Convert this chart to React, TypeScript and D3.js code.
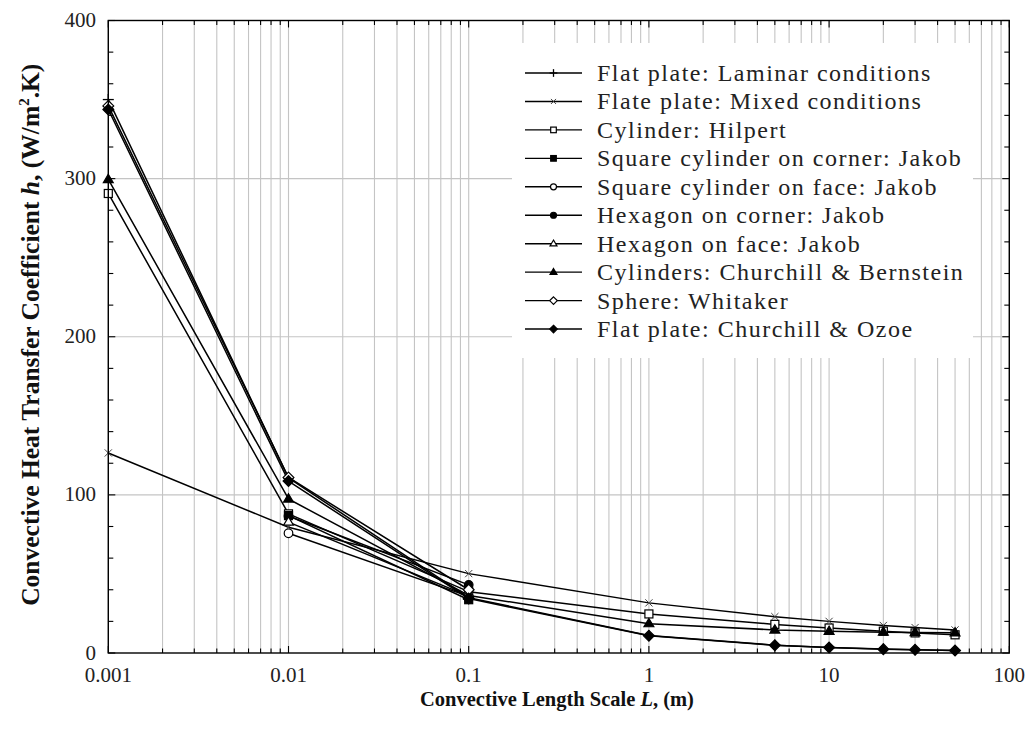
import React from 'react';
import * as d3 from 'd3';

// Convective length scales (m) at which each correlation is evaluated
const lengthScales = [0.001, 0.01, 0.1, 1, 5, 10, 20, 30, 50];
const jakobScales = [0.01, 0.1];
const sphereScales = [0.001, 0.01, 0.1];

// Heat transfer coefficient h (W/m².K)
const laminarPlate = [350, 110.7, 35.0, 11.07, 4.95, 3.5, 2.47, 2.02, 1.57];
const mixedPlate = [126.5, 79.5, 50.2, 31.7, 23.0, 20.0, 17.4, 16.1, 14.6];
const hilpertCylinder = [290.6, 88.0, 38.8, 24.7, 18.1, 15.8, 13.8, 12.7, 11.5];
const squareCorner = [86.9, 33.7];
const squareFace = [75.7, 35.8];
const hexagonCorner = [86.6, 43.1];
const hexagonFace = [82.8, 36.0];
const churchillBernstein = [299.5, 97.4, 36.4, 18.56, 14.6, 13.75, 13.2, 12.97, 12.76];
const sphereWhitaker = [346, 111, 40.0];
const churchillOzoe = [343.7, 108.7, 34.4, 10.87, 4.86, 3.44, 2.43, 1.98, 1.54];

const seriesNames = [
  'Flat plate: Laminar conditions',
  'Flate plate: Mixed conditions',
  'Cylinder: Hilpert',
  'Square cylinder on corner: Jakob',
  'Square cylinder on face: Jakob',
  'Hexagon on corner: Jakob',
  'Hexagon on face: Jakob',
  'Cylinders: Churchill & Bernstein',
  'Sphere: Whitaker',
  'Flat plate: Churchill & Ozoe',
];

const xTickLabels = ['0.001', '0.01', '0.1', '1', '10', '100'];
const yTickLabels = ['0', '100', '200', '300', '400'];

type MarkerKind =
  | 'plus'
  | 'cross'
  | 'squareOpen'
  | 'squareFilled'
  | 'circleOpen'
  | 'circleFilled'
  | 'triangleOpen'
  | 'triangleFilled'
  | 'diamondOpen'
  | 'diamondFilled';

const markerKinds: MarkerKind[] = [
  'plus',
  'cross',
  'squareOpen',
  'squareFilled',
  'circleOpen',
  'circleFilled',
  'triangleOpen',
  'triangleFilled',
  'diamondOpen',
  'diamondFilled',
];

const seriesX = [
  lengthScales,
  lengthScales,
  lengthScales,
  jakobScales,
  jakobScales,
  jakobScales,
  jakobScales,
  lengthScales,
  sphereScales,
  lengthScales,
];
const seriesY = [
  laminarPlate,
  mixedPlate,
  hilpertCylinder,
  squareCorner,
  squareFace,
  hexagonCorner,
  hexagonFace,
  churchillBernstein,
  sphereWhitaker,
  churchillOzoe,
];

const FONT = '"Liberation Serif", "DejaVu Serif", serif';

const W = 1033;
const H = 731;
const left = 108.3;
const right = 1009.3;
const top = 20.5;
const bottom = 653;

function Marker({ kind, x, y, s = 1 }: { kind: MarkerKind; x: number; y: number; s?: number }) {
  const sw = 1.2;
  switch (kind) {
    case 'plus': {
      const r = 5.5 * s;
      return (
        <g stroke="#000" strokeWidth={1.3}>
          <line x1={x - r} x2={x + r} y1={y} y2={y} />
          <line x1={x} x2={x} y1={y - r} y2={y + r} />
        </g>
      );
    }
    case 'cross': {
      const r = 3.6 * s;
      return (
        <g stroke="#444" strokeWidth={1}>
          <line x1={x - r} x2={x + r} y1={y - r} y2={y + r} />
          <line x1={x - r} x2={x + r} y1={y + r} y2={y - r} />
        </g>
      );
    }
    case 'squareOpen':
    case 'squareFilled': {
      const r = 4 * s;
      return (
        <rect
          x={x - r}
          y={y - r}
          width={2 * r}
          height={2 * r}
          fill={kind === 'squareFilled' ? '#000' : '#fff'}
          stroke="#000"
          strokeWidth={sw}
        />
      );
    }
    case 'circleOpen':
    case 'circleFilled':
      return (
        <circle
          cx={x}
          cy={y}
          r={4.3 * s}
          fill={kind === 'circleFilled' ? '#000' : '#fff'}
          stroke="#000"
          strokeWidth={sw}
        />
      );
    case 'triangleOpen':
    case 'triangleFilled': {
      const r = 5.2 * s;
      const pts = [
        [x, y - r],
        [x + r * 0.95, y + r * 0.6],
        [x - r * 0.95, y + r * 0.6],
      ]
        .map((p) => p.join(','))
        .join(' ');
      return (
        <polygon
          points={pts}
          fill={kind === 'triangleFilled' ? '#000' : '#fff'}
          stroke="#000"
          strokeWidth={sw}
        />
      );
    }
    case 'diamondOpen':
    case 'diamondFilled': {
      const r = 5.4 * s;
      const pts = [
        [x, y - r],
        [x + r, y],
        [x, y + r],
        [x - r, y],
      ]
        .map((p) => p.join(','))
        .join(' ');
      return (
        <polygon
          points={pts}
          fill={kind === 'diamondFilled' ? '#000' : '#fff'}
          stroke="#000"
          strokeWidth={sw}
        />
      );
    }
  }
  return null;
}

export default function App() {
  const x = d3.scaleLog().domain([0.001, 100]).range([left, right]);
  const y = d3.scaleLinear().domain([0, 400]).range([bottom, top]);

  const xTicks = x.ticks();
  const xMajor = xTickLabels.map((t) => +t);
  const isMajorX = (v: number) => xMajor.some((m) => Math.abs(v / m - 1) < 1e-6);
  const yMinor = d3.range(0, 401, 20);
  const yMajor = yTickLabels.map((t) => +t);

  const line = d3
    .line<[number, number]>()
    .x((d) => x(d[0]))
    .y((d) => y(d[1]));

  const series = seriesNames.map((name, i) => ({
    name,
    kind: markerKinds[i],
    points: seriesX[i].map((v, j) => [v, seriesY[i][j]] as [number, number]),
  }));

  // legend geometry
  const legX0 = 512;
  const legX1 = 973;
  const legY0 = 43;
  const legY1 = 358;
  const rowY0 = 73;
  const rowStep = 28.45;

  return (
    <svg
      width={W}
      height={H}
      viewBox={`0 0 ${W} ${H}`}
      style={{ position: 'absolute', left: 0, top: 0, background: '#fff' }}
      fontFamily={FONT}
    >
      <rect x={0} y={0} width={W} height={H} fill="#fff" />

      {/* grid */}
      <g stroke="#c4c4c4" strokeWidth={1.1}>
        {xTicks.map((t, i) => (
          <line key={'gx' + i} x1={x(t)} x2={x(t)} y1={top} y2={bottom} />
        ))}
        {yMajor
          .filter((v) => v > 0 && v < 400)
          .map((v) => (
            <line key={'gy' + v} x1={left} x2={right} y1={y(v)} y2={y(v)} />
          ))}
      </g>

      {/* ticks */}
      <g stroke="#000" strokeWidth={1.1}>
        {xTicks.map((t, i) => {
          const len = isMajorX(t) ? 7 : 4.5;
          return (
            <g key={'tx' + i}>
              <line x1={x(t)} x2={x(t)} y1={bottom} y2={bottom - len} />
              <line x1={x(t)} x2={x(t)} y1={top} y2={top + len} />
            </g>
          );
        })}
        {yMinor.map((v) => {
          const len = v % 100 === 0 ? 7 : 5;
          return (
            <g key={'ty' + v}>
              <line x1={left} x2={left + len} y1={y(v)} y2={y(v)} />
              <line x1={right} x2={right - len} y1={y(v)} y2={y(v)} />
            </g>
          );
        })}
      </g>

      {/* series lines */}
      <g fill="none" stroke="#000" strokeWidth={1.5} strokeLinejoin="round">
        {series.map((s, i) => (
          <path key={'l' + i} d={line(s.points) || ''} />
        ))}
      </g>

      {/* series markers */}
      {series.map((s, i) => (
        <g key={'m' + i}>
          {s.points.map((p, j) => (
            <Marker key={j} kind={s.kind} x={x(p[0])} y={y(p[1])} />
          ))}
        </g>
      ))}

      {/* frame */}
      <rect
        x={left}
        y={top}
        width={right - left}
        height={bottom - top}
        fill="none"
        stroke="#000"
        strokeWidth={1.4}
      />

      {/* tick labels */}
      <g fontSize={21} fill="#222">
        {xTickLabels.map((t) => (
          <text key={'xl' + t} x={x(+t)} y={682} textAnchor="middle">
            {t}
          </text>
        ))}
        {yTickLabels.map((t) => (
          <text key={'yl' + t} x={96} y={y(+t) + 6.5} textAnchor="end">
            {t}
          </text>
        ))}
      </g>

      {/* legend */}
      <rect x={legX0} y={legY0} width={legX1 - legX0} height={legY1 - legY0} fill="#fff" />
      {series.map((s, i) => {
        const ry = rowY0 + i * rowStep;
        return (
          <g key={'lg' + i}>
            <line x1={525} x2={582} y1={ry} y2={ry} stroke="#000" strokeWidth={1.4} />
            <Marker kind={s.kind} x={553.5} y={ry} s={0.7} />
            <text x={597} y={ry + 8} fontSize={24} letterSpacing={1.5} fill="#222">
              {s.name}
            </text>
          </g>
        );
      })}

      {/* axis titles */}
      <text
        x={557}
        y={706}
        textAnchor="middle"
        fontSize={20.5}
        fontWeight="bold"
        fill="#111"
      >
        Convective Length Scale <tspan fontStyle="italic">L</tspan>, (m)
      </text>
      <text
        transform={`translate(39, ${(top + bottom) / 2 - 2}) rotate(-90)`}
        textAnchor="middle"
        fontSize={25.5}
        fontWeight="bold"
        fill="#111"
      >
        Convective Heat Transfer Coefficient <tspan fontStyle="italic">h</tspan>, (W/m
        <tspan dy={-10} fontSize={15}>
          2
        </tspan>
        <tspan dy={10}>.K)</tspan>
      </text>
    </svg>
  );
}
